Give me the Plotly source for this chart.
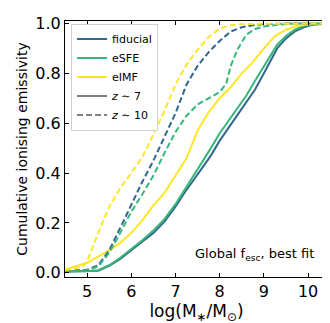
import plotly.graph_objects as go

# ---- data ----
fid_z7_x = [4.5, 5.0, 5.25, 5.5, 5.75, 6.0, 6.25, 6.5, 6.75, 7.0, 7.2, 7.4, 7.6, 7.8, 8.0, 8.2, 8.4, 8.6, 8.8, 9.0, 9.15, 9.3, 9.5, 9.7, 9.9, 10.1, 10.45]
fid_z7_y = [0.005, 0.006, 0.008, 0.028, 0.055, 0.09, 0.125, 0.16, 0.205, 0.265, 0.32, 0.37, 0.42, 0.47, 0.53, 0.58, 0.63, 0.68, 0.735, 0.80, 0.85, 0.90, 0.94, 0.968, 0.985, 0.995, 1.0]

esfe_z7_x = [4.5, 5.0, 5.25, 5.5, 5.75, 6.0, 6.25, 6.5, 6.75, 7.0, 7.2, 7.4, 7.6, 7.8, 8.0, 8.2, 8.4, 8.6, 8.8, 9.0, 9.15, 9.3, 9.5, 9.7, 9.9, 10.1, 10.45]
esfe_z7_y = [0.005, 0.006, 0.01, 0.03, 0.06, 0.095, 0.13, 0.17, 0.215, 0.275, 0.33, 0.385, 0.445, 0.50, 0.56, 0.61, 0.655, 0.71, 0.77, 0.83, 0.875, 0.915, 0.95, 0.975, 0.99, 0.997, 1.0]

eimf_z7_x = [4.5, 4.75, 5.0, 5.25, 5.5, 5.75, 6.0, 6.25, 6.5, 6.75, 7.0, 7.25, 7.5, 7.75, 8.0, 8.25, 8.5, 8.75, 9.0, 9.25, 9.5, 9.75, 10.0, 10.45]
eimf_z7_y = [0.013, 0.025, 0.04, 0.065, 0.09, 0.12, 0.16, 0.21, 0.27, 0.32, 0.39, 0.46, 0.57, 0.645, 0.70, 0.745, 0.80, 0.845, 0.90, 0.95, 0.975, 0.99, 0.997, 1.0]

fid_z10_x = [4.5, 4.75, 5.0, 5.25, 5.5, 5.75, 6.0, 6.25, 6.5, 6.75, 7.0, 7.25, 7.5, 7.75, 8.0, 8.25, 8.5, 8.75, 9.0, 9.5, 10.45]
fid_z10_y = [0.007, 0.009, 0.012, 0.03, 0.09, 0.18, 0.275, 0.365, 0.45, 0.545, 0.64, 0.755, 0.83, 0.885, 0.93, 0.968, 0.985, 0.993, 0.997, 1.0, 1.0]

esfe_z10_x = [4.5, 4.75, 5.0, 5.25, 5.5, 5.75, 6.0, 6.25, 6.5, 6.75, 7.0, 7.25, 7.5, 7.75, 8.0, 8.15, 8.25, 8.4, 8.6, 8.8, 9.0, 9.3, 9.7, 10.45]
esfe_z10_y = [0.005, 0.007, 0.01, 0.025, 0.08, 0.16, 0.245, 0.315, 0.39, 0.48, 0.565, 0.63, 0.675, 0.70, 0.725, 0.76, 0.83, 0.895, 0.955, 0.978, 0.988, 0.995, 1.0, 1.0]

eimf_z10_x = [4.5, 4.75, 4.9, 5.0, 5.25, 5.5, 5.75, 6.0, 6.25, 6.5, 6.75, 7.0, 7.25, 7.5, 7.75, 8.0, 8.25, 8.5, 10.45]
eimf_z10_y = [0.01, 0.018, 0.025, 0.045, 0.16, 0.265, 0.34, 0.40, 0.465, 0.555, 0.65, 0.755, 0.835, 0.895, 0.945, 0.98, 0.993, 0.998, 1.0]

x_ticks = [5, 6, 7, 8, 9, 10]
y_ticks = [0.0, 0.2, 0.4, 0.6, 0.8, 1.0]

C_FID = "#31688e"
C_ESFE = "#35b779"
C_EIMF = "#fde725"
DASH = "6px,3px"

fig = go.Figure()
series = [
    (fid_z7_x, fid_z7_y, C_FID, "solid"),
    (esfe_z7_x, esfe_z7_y, C_ESFE, "solid"),
    (eimf_z7_x, eimf_z7_y, C_EIMF, "solid"),
    (fid_z10_x, fid_z10_y, C_FID, DASH),
    (esfe_z10_x, esfe_z10_y, C_ESFE, DASH),
    (eimf_z10_x, eimf_z10_y, C_EIMF, DASH),
]
for xs, ys, c, d in series:
    fig.add_trace(go.Scatter(x=xs, y=ys, mode="lines", showlegend=False,
                             line=dict(color=c, width=2, dash=d)))

# legend-only entries
for name, c, d in [("fiducial", C_FID, "solid"), ("eSFE", C_ESFE, "solid"),
                   ("eIMF", C_EIMF, "solid"), ("<i>z</i> ∼ 7", "#808080", "solid"),
                   ("<i>z</i> ∼ 10", "#808080", DASH)]:
    fig.add_trace(go.Scatter(x=[None], y=[None], mode="lines", name=name,
                             line=dict(color=c, width=2, dash=d)))

axis_common = dict(showline=True, linecolor="black", linewidth=1, mirror="allticks",
                   ticks="inside", ticklen=4, tickwidth=1, tickcolor="black",
                   showgrid=False, zeroline=False, automargin=False,
                   tickfont=dict(family="DejaVu Sans", size=16, color="black"))

fig.update_layout(
    width=330, height=323,
    margin=dict(l=57, r=10, t=13, b=54),
    paper_bgcolor="white", plot_bgcolor="white",
    font=dict(family="DejaVu Sans", color="black"),
    xaxis=dict(range=[4.5, 10.45], tickvals=x_ticks, ticktext=[str(v) for v in x_ticks],
               title=dict(text="log(M<sub>∗</sub>/M<sub>⊙</sub>)", font=dict(size=17), standoff=4),
               **axis_common),
    yaxis=dict(range=[-0.017, 1.01], tickvals=y_ticks, ticktext=[f"{v:.1f}" for v in y_ticks],
               title=dict(text="Cumulative ionising emissivity", font=dict(size=14), standoff=4),
               **axis_common),
    legend=dict(x=0.023, y=0.99, xanchor="left", yanchor="top",
                bgcolor="white", bordercolor="#d0d0d0", borderwidth=1, itemwidth=30,
                font=dict(size=11, color="black"), tracegroupgap=0),
    annotations=[dict(text="Global f<sub>esc</sub>, best fit", xref="paper", yref="paper",
                      x=0.955, y=0.086, xanchor="right", yanchor="middle", showarrow=False,
                      font=dict(size=13, color="black"))],
)

fig.write_html("out.html")
